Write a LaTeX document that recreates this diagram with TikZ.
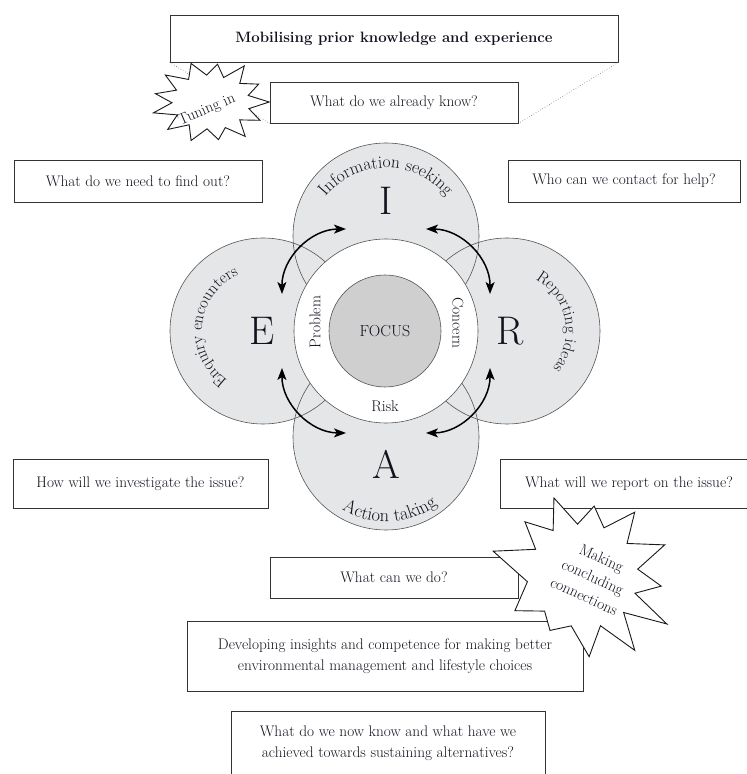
\documentclass[tikz,border=0pt]{standalone}
\usetikzlibrary{arrows.meta,decorations.text}
\definecolor{petal}{RGB}{229,230,232}
\definecolor{focusgray}{RGB}{207,207,208}
\definecolor{edgegray}{RGB}{85,85,85}
\definecolor{ink}{RGB}{18,18,30}
\begin{document}
\begin{tikzpicture}[x=1pt,y=1pt,
  qbox/.style={draw=black!80, line width=0.8pt, fill=white, text=ink, align=center, inner sep=0pt, font=\fontsize{15.3}{21}\selectfont},
  petalfill/.style={circle, fill=petal, minimum size=186pt, inner sep=0pt},
  petaledge/.style={draw=edgegray, line width=0.6pt},
  bigletter/.style={text=ink, inner sep=0pt, font=\fontsize{40}{40}\selectfont},
  inlabel/.style={text=ink, inner sep=0pt, font=\fontsize{15.5}{15.5}\selectfont},
  dotline/.style={draw=black!55, line width=0.6pt, dotted},
  cyc/.style={line width=1.5pt, {Stealth[length=12pt,width=9pt,inset=3pt]}-{Stealth[length=12pt,width=9pt,inset=3pt]}},
  burst/.style={draw=black!90, fill=white, line width=0.9pt, line join=miter},
  bursttext/.style={text=ink, align=center, inner sep=0pt, font=\fontsize{15.5}{21}\selectfont}
]
\useasboundingbox (0,0) rectangle (747,774);
\clip (0,0) rectangle (747,774);

% ---------- top boxes ----------
\node[qbox, minimum width=448pt, minimum height=47pt, font=\fontsize{15}{15}\selectfont\bfseries] (title) at (394,735.5) {Mobilising prior knowledge and experience};
\node[qbox, minimum width=248pt, minimum height=41pt] (know) at (394,671.5) {What do we already know?};
\draw[dotline] (title.south west) -- (know.south west);
\draw[dotline] (title.south east) -- (know.south east);

\node[qbox, minimum width=248pt, minimum height=42pt] (need) at (138,593) {What do we need to find out?};
\node[qbox, minimum width=232pt, minimum height=42pt] (who) at (624,593) {Who can we contact for help?};

% ---------- petals ----------
\node[petalfill] (Ic) at (386,538) {};
\node[petalfill] (Ac) at (386,337) {};
\node[petalfill] (Ec) at (263,443) {};
\node[petalfill] (Rc) at (507,443) {};
\draw[petaledge] (Ic) circle[radius=93];
\draw[petaledge] (Ac) circle[radius=93];
\draw[petaledge] (Ec) circle[radius=93];
\draw[petaledge] (Rc) circle[radius=93];

\node[circle, fill=white, draw=edgegray, line width=0.6pt, minimum size=184pt, inner sep=0pt] (ring) at (386,443) {};
\node[circle, fill=focusgray, draw=edgegray, line width=0.6pt, minimum size=112pt, inner sep=0pt, text=ink, font=\fontsize{16}{16}\selectfont] (focus) at (385,443) {FOCUS};

\node[inlabel, rotate=90] (prob) at (315,452) {Problem};
\node[inlabel, rotate=-90] (conc) at (458,451) {Concern};
\node[inlabel] (risk) at (385,368) {Risk};

% ---------- letters ----------
\node[bigletter] (LI) at (386,573) {I};
\node[bigletter] (LE) at (262,443) {E};
\node[bigletter] (LR) at (510,443) {R};
\node[bigletter] (LA) at (386,310) {A};

% ---------- curved labels ----------
\path[decorate, decoration={text along path, text align=center, text color=ink,
  text={|\fontsize{17.5}{17.5}\selectfont|Information seeking}}]
  (386,528) ++(170:78) arc[start angle=170, end angle=10, radius=78];
\path[decorate, decoration={text along path, text align=center, text color=ink,
  text={|\fontsize{16.5}{16.5}\selectfont|Enquiry encounters}}]
  (263,443) ++(250:61) arc[start angle=250, end angle=98, radius=61];
\path[decorate, decoration={text along path, text align=center, text color=ink,
  text={|\fontsize{16.5}{16.5}\selectfont|Reporting ideas}}]
  (507,443) ++(85:59) arc[start angle=85, end angle=-63, radius=59];
\path[decorate, decoration={text along path, text align=center, text color=ink,
  text={|\fontsize{18.5}{18.5}\selectfont|Action taking}}]
  (386,337) ++(200:85) arc[start angle=200, end angle=346, radius=85];

% ---------- cycle arrows ----------
\coordinate (tl1) at (282,480);
\coordinate (tl2) at (346,545);
\coordinate (tr1) at (426,545);
\coordinate (tr2) at (490,480);
\coordinate (br1) at (490,406);
\coordinate (br2) at (426,341);
\coordinate (bl1) at (346,341);
\coordinate (bl2) at (282,406);
\draw[cyc] (tl1) to[bend left=45] (tl2);
\draw[cyc] (tr1) to[bend left=45] (tr2);
\draw[cyc] (br1) to[bend left=45] (br2);
\draw[cyc] (bl1) to[bend left=45] (bl2);

% ---------- lower boxes ----------
\node[qbox, minimum width=255pt, minimum height=49pt] (invest) at (140.5,290.5) {How will we investigate the issue?};
\node[qbox, minimum width=258pt, minimum height=49pt] (report) at (629,290.5) {What will we report on the issue?};
\node[qbox, minimum width=248pt, minimum height=41pt] (cando) at (394,196.5) {What can we do?};
\node[qbox, minimum width=396pt, minimum height=70pt] (develop) at (385,118) {Developing insights and competence for making better\\environmental management and lifestyle choices};
\node[qbox, minimum width=314pt, minimum height=64pt] (nowknow) at (388,31) {What do we now know and what have we\\achieved towards sustaining alternatives?};

% ---------- starbursts ----------
\draw[burst, shift={(211,672)}, xscale=1.42]
  (0:41) -- (14:27) -- (28:38) -- (42.5:27.5) -- (57:43) -- (70:26) -- (83:38) -- (96.5:27) --
  (110:41) -- (125:27.5) -- (140:42) -- (154:27) -- (168:40) -- (181.5:27.5) -- (195:42) -- (208.5:27) --
  (222:41) -- (236:27.5) -- (250:41) -- (264:27) -- (278:38) -- (291.5:27.5) -- (305:42) -- (318.5:27) --
  (332:39) -- (346:27.5) -- cycle;
\node[bursttext, rotate=23] (tuning) at (207,664) {Tuning in};

\draw[burst, shift={(582,199)}]
  (-152:76) -- (-136:52) -- (-120:64) -- (-102:52) -- (-85:82) -- (-70:54) -- (-55:92) -- (-42:56) --
  (-30:98) -- (-19:56) -- (-8:80) -- (6:56) -- (20:88) -- (35:55) -- (50:82) -- (65:52) --
  (80:70) -- (95:51) -- (110:82) -- (123:53) -- (137:78) -- (151:53) -- (165:92) -- (187:55) -- cycle;
\node[bursttext, rotate=-24.5] (making) at (593,197) {Making\\concluding\\connections};
\end{tikzpicture}
\end{document}
